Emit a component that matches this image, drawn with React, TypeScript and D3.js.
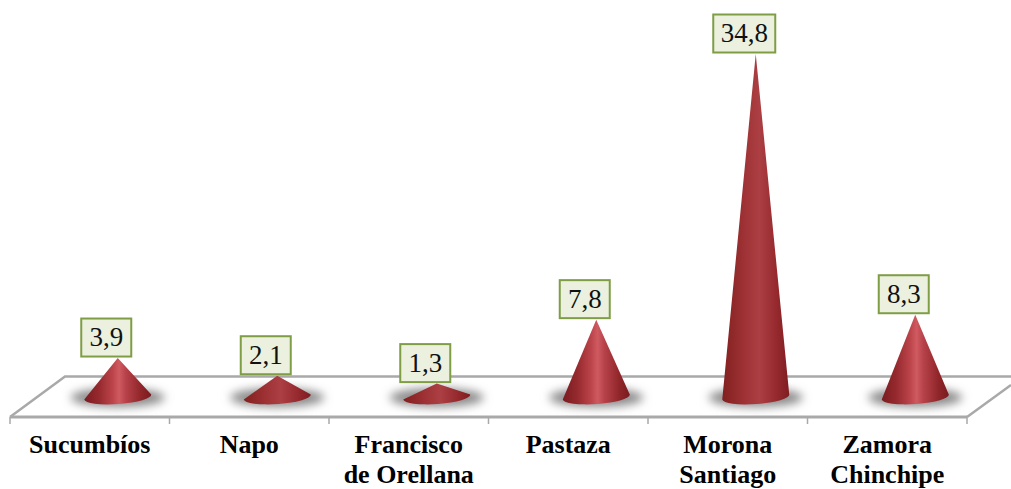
import React from "react";
import * as d3 from "d3";

const categories = [["Sucumbíos"], ["Napo"], ["Francisco", "de Orellana"], ["Pastaza"], ["Morona", "Santiago"], ["Zamora", "Chinchipe"]];
const values = [3.9, 2.1, 1.3, 7.8, 34.8, 8.3];
const labels = ["3,9", "2,1", "1,3", "7,8", "34,8", "8,3"];

const W = 1011, H = 489;
const x = d3.scaleBand<number>().domain(d3.range(values.length)).range([10, 967]);
const y = d3.scaleLinear().domain([0, 34.8]).range([396.4, 54]);
const FRONT = 417, BACK = 376.5, DX = 55, DEPTH = 28;
const SERIF = "'Liberation Serif', 'Times New Roman', serif";
const GRID = "#a9a9a9";

function conePath(cx: number, top: number) {
  const p = d3.path();
  p.moveTo(cx, top);
  p.lineTo(cx - 33.5, 399.5);
  const rx = 33.5, ry = 7;
  const right = `A${rx} ${ry} -4 0 0 ${cx + 33.5} 394.5`;
  return `${p.toString()}${right}Z`;
}

export default function App() {
  const ticks = d3.range(values.length + 1).map((i) => 10 + i * x.bandwidth());
  return (
    <svg width={W} height={H} viewBox={`0 0 ${W} ${H}`} style={{ position: "absolute", left: 0, top: 0, background: "#fff" }}>
      <defs>
        <linearGradient id="cone" x1="0" x2="1" y1="0" y2="0">
          <stop offset="0" stopColor="#7a1b20" />
          <stop offset="0.22" stopColor="#962a2e" />
          <stop offset="0.42" stopColor="#bb4449" />
          <stop offset="0.52" stopColor="#cf5a60" />
          <stop offset="0.62" stopColor="#b7424a" />
          <stop offset="0.85" stopColor="#8f2529" />
          <stop offset="1" stopColor="#7a1b20" />
        </linearGradient>
        <linearGradient id="coneDim" x1="0" x2="1" y1="0" y2="0">
          <stop offset="0" stopColor="#82201f" />
          <stop offset="0.3" stopColor="#9c3033" />
          <stop offset="0.55" stopColor="#ac3f43" />
          <stop offset="0.8" stopColor="#962a2e" />
          <stop offset="1" stopColor="#7f1d21" />
        </linearGradient>
        <filter id="blur" x="-30%" y="-80%" width="160%" height="260%">
          <feGaussianBlur stdDeviation="5" />
        </filter>
      </defs>

      <path
        d={`M${ticks[0]} ${FRONT}L${ticks[0] + DX} ${BACK}H${W}M${ticks[6]} ${FRONT}L${W} 385`}
        fill="none"
        stroke={GRID}
        strokeWidth={2.5}
      />
      <line x1={ticks[0]} x2={ticks[6]} y1={FRONT} y2={FRONT} stroke={GRID} strokeWidth={3} />
      {ticks.map((t) => (
        <line key={t} x1={t} x2={t} y1={FRONT} y2={424} stroke={GRID} strokeWidth={1.5} />
      ))}

      {values.map((v, i) => {
        const cx = x(i)! + x.bandwidth() / 2 + DEPTH;
        const top = y(v);
        return (
          <g key={i}>
            <ellipse cx={cx} cy={397.5} rx={47} ry={9.5} fill="#8a8a8a" filter="url(#blur)" />
            <path d={conePath(cx, top)} fill={v > 30 || v < 3 ? "url(#coneDim)" : "url(#cone)"} />
          </g>
        );
      })}

      {values.map((v, i) => {
        const cx = x(i)! + x.bandwidth() / 2 + DEPTH - 11.5;
        const bottom = y(v) - 1.5;
        const w = labels[i].length > 3 ? 62 : 50;
        return (
          <g key={i}>
            <rect x={cx - w / 2} y={bottom - 38} width={w} height={38} fill="#ebf1de" stroke="#7f9d45" strokeWidth={2} />
            <text x={cx} y={bottom - 10.5} textAnchor="middle" fontFamily={SERIF} fontSize={27} fill="#111">
              {labels[i]}
            </text>
          </g>
        );
      })}

      {categories.map((lines, i) => (
        <text key={i} textAnchor="middle" fontFamily={SERIF} fontSize={26} fontWeight="bold" fill="#000">
          {lines.map((l, j) => (
            <tspan key={j} x={x(i)! + x.bandwidth() / 2} y={453 + j * 30}>
              {l}
            </tspan>
          ))}
        </text>
      ))}
    </svg>
  );
}
